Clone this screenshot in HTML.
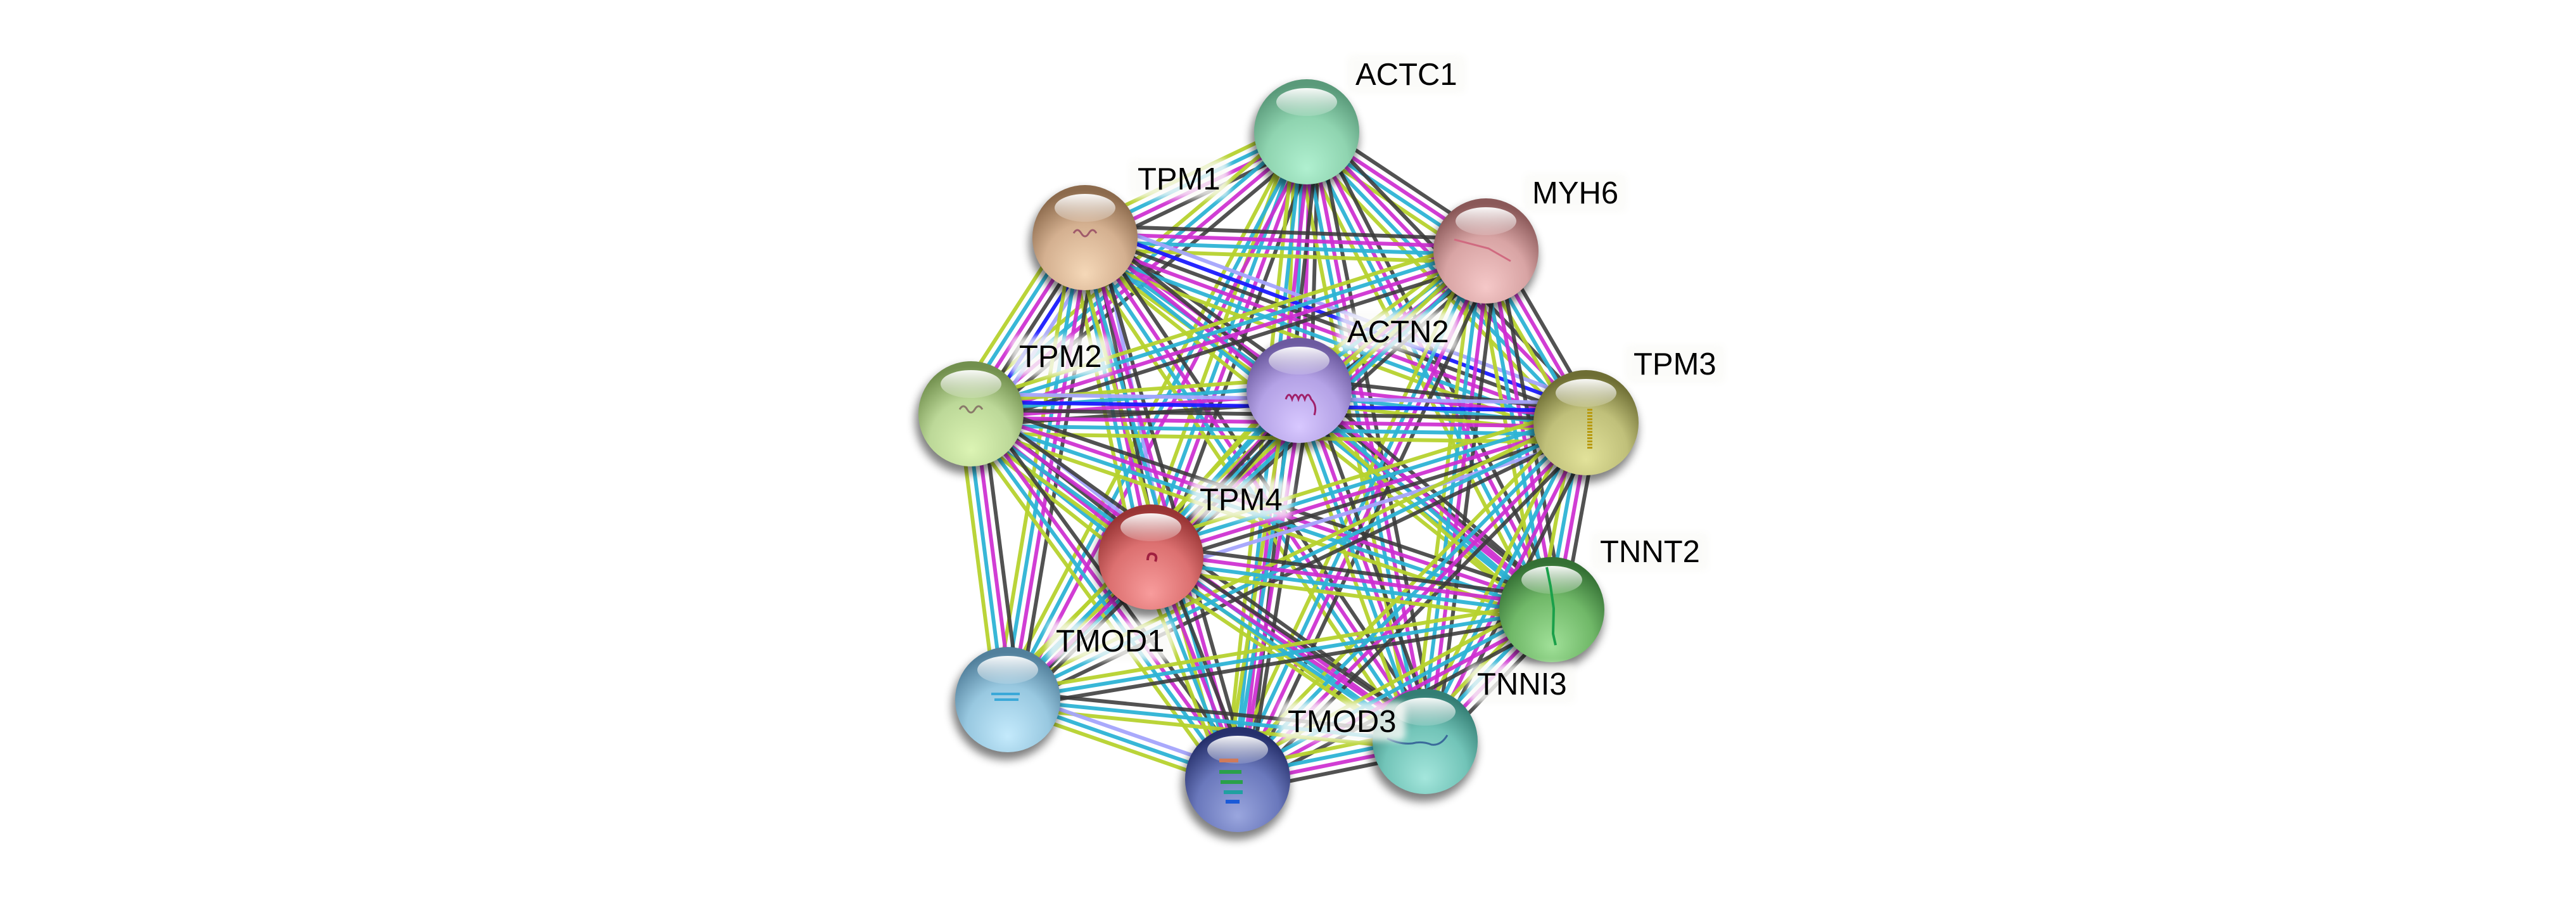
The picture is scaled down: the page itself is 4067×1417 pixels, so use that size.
<!DOCTYPE html>
<html>
<head>
<meta charset="utf-8">
<style>
html,body{margin:0;padding:0;background:#fff;}
body{width:4067px;height:1417px;overflow:hidden;}
svg{display:block;}
text{font-family:"Liberation Sans",Arial,sans-serif;font-size:49px;fill:#000;}
</style>
</head>
<body>
<svg width="4067" height="1417" viewBox="0 0 4067 1417">
<defs>
<filter id="sh" x="-50%" y="-50%" width="200%" height="200%"><feGaussianBlur stdDeviation="7"/></filter>
<filter id="lb" x="-30%" y="-50%" width="160%" height="200%"><feGaussianBlur stdDeviation="5"/></filter>
<linearGradient id="hl" x1="0" y1="0" x2="0" y2="1">
<stop offset="0" stop-color="#fff" stop-opacity=".95"/>
<stop offset="1" stop-color="#fff" stop-opacity=".15"/>
</linearGradient>
<radialGradient id="g0" cx="50%" cy="70%" r="65%" fx="50%" fy="85%"><stop offset="0" stop-color="#b0f0d0"/><stop offset=".6" stop-color="#8fd4b0"/><stop offset="1" stop-color="#5a9a7a"/></radialGradient>
<radialGradient id="g1" cx="50%" cy="70%" r="65%" fx="50%" fy="85%"><stop offset="0" stop-color="#f5d8b8"/><stop offset=".6" stop-color="#d4b090"/><stop offset="1" stop-color="#8c6a4c"/></radialGradient>
<radialGradient id="g2" cx="50%" cy="70%" r="65%" fx="50%" fy="85%"><stop offset="0" stop-color="#f5c8c8"/><stop offset=".6" stop-color="#d8a4a4"/><stop offset="1" stop-color="#8a5858"/></radialGradient>
<radialGradient id="g3" cx="50%" cy="70%" r="65%" fx="50%" fy="85%"><stop offset="0" stop-color="#d8c8ff"/><stop offset=".6" stop-color="#b4a2e6"/><stop offset="1" stop-color="#6c5aa0"/></radialGradient>
<radialGradient id="g4" cx="50%" cy="70%" r="65%" fx="50%" fy="85%"><stop offset="0" stop-color="#dcf4b4"/><stop offset=".6" stop-color="#bcd898"/><stop offset="1" stop-color="#72904e"/></radialGradient>
<radialGradient id="g5" cx="50%" cy="70%" r="65%" fx="50%" fy="85%"><stop offset="0" stop-color="#e2e29a"/><stop offset=".6" stop-color="#c0c07a"/><stop offset="1" stop-color="#6e6e34"/></radialGradient>
<radialGradient id="g6" cx="50%" cy="70%" r="65%" fx="50%" fy="85%"><stop offset="0" stop-color="#f89c9c"/><stop offset=".6" stop-color="#dc7070"/><stop offset="1" stop-color="#983434"/></radialGradient>
<radialGradient id="g7" cx="50%" cy="70%" r="65%" fx="50%" fy="85%"><stop offset="0" stop-color="#a0e098"/><stop offset=".6" stop-color="#70b868"/><stop offset="1" stop-color="#347034"/></radialGradient>
<radialGradient id="g8" cx="50%" cy="70%" r="65%" fx="50%" fy="85%"><stop offset="0" stop-color="#c4eafc"/><stop offset=".6" stop-color="#98c8e0"/><stop offset="1" stop-color="#52809c"/></radialGradient>
<radialGradient id="g9" cx="50%" cy="70%" r="65%" fx="50%" fy="85%"><stop offset="0" stop-color="#a4e6dc"/><stop offset=".6" stop-color="#72c4b8"/><stop offset="1" stop-color="#347e74"/></radialGradient>
<radialGradient id="g10" cx="50%" cy="70%" r="65%" fx="50%" fy="85%"><stop offset="0" stop-color="#9aa6de"/><stop offset=".6" stop-color="#6a78bc"/><stop offset="1" stop-color="#26306c"/></radialGradient>
</defs>

<g id="edges"></g>

<g id="nodes">
<!-- ACTC1 -->
<circle cx="2060" cy="218" r="85" fill="#000" opacity=".5" filter="url(#sh)"/>
<circle cx="2063" cy="208" r="83" fill="url(#g0)"/>
<ellipse cx="2063" cy="161" rx="48" ry="22" fill="url(#hl)"/>
<!-- TPM1 -->
<circle cx="1710" cy="385" r="85" fill="#000" opacity=".5" filter="url(#sh)"/>
<circle cx="1713" cy="375" r="83" fill="url(#g1)"/>
<ellipse cx="1713" cy="328" rx="48" ry="22" fill="url(#hl)"/>
<path d="M1695 368 q6 -10 12 0 q6 10 12 0 q6 -10 12 0" stroke="#a05a6a" stroke-width="3" fill="none"/>
<!-- MYH6 -->
<circle cx="2343" cy="406" r="85" fill="#000" opacity=".5" filter="url(#sh)"/>
<circle cx="2346" cy="396" r="83" fill="url(#g2)"/>
<ellipse cx="2346" cy="349" rx="48" ry="22" fill="url(#hl)"/>
<path d="M2296 378 L2350 392 L2385 412" stroke="#d06a80" stroke-width="3" fill="none"/>
<!-- ACTN2 -->
<circle cx="2048" cy="626" r="85" fill="#000" opacity=".5" filter="url(#sh)"/>
<circle cx="2051" cy="616" r="83" fill="url(#g3)"/>
<ellipse cx="2051" cy="569" rx="48" ry="22" fill="url(#hl)"/>
<path d="M2030 630 q5 -14 10 0 q5 -14 10 0 q5 -14 10 0 q5 -14 10 0 q10 10 5 25" stroke="#a0206a" stroke-width="3" fill="none"/>
<!-- TPM2 -->
<circle cx="1530" cy="663" r="85" fill="#000" opacity=".5" filter="url(#sh)"/>
<circle cx="1533" cy="653" r="83" fill="url(#g4)"/>
<ellipse cx="1533" cy="606" rx="48" ry="22" fill="url(#hl)"/>
<path d="M1515 646 q6 -10 12 0 q6 10 12 0 q6 -10 12 0" stroke="#8a7a6a" stroke-width="3" fill="none"/>
<!-- TPM3 -->
<circle cx="2501" cy="677" r="85" fill="#000" opacity=".5" filter="url(#sh)"/>
<circle cx="2504" cy="667" r="83" fill="url(#g5)"/>
<ellipse cx="2504" cy="620" rx="48" ry="22" fill="url(#hl)"/>
<path d="M2510 645 L2510 710" stroke="#b89a10" stroke-width="8" stroke-dasharray="3 2" fill="none"/>
<!-- TPM4 -->
<circle cx="1814" cy="889" r="85" fill="#000" opacity=".5" filter="url(#sh)"/>
<circle cx="1817" cy="879" r="83" fill="url(#g6)"/>
<ellipse cx="1817" cy="832" rx="48" ry="22" fill="url(#hl)"/>
<path d="M1812 884 q0 -12 8 -10 q8 2 4 12" stroke="#a02040" stroke-width="4" fill="none"/>
<!-- TNNT2 -->
<circle cx="2447" cy="972" r="85" fill="#000" opacity=".5" filter="url(#sh)"/>
<circle cx="2450" cy="962" r="83" fill="url(#g7)"/>
<ellipse cx="2450" cy="915" rx="48" ry="22" fill="url(#hl)"/>
<path d="M2442 895 L2448 925 L2453 960 L2452 1000 L2456 1018" stroke="#1aa04a" stroke-width="4" fill="none"/>
<!-- TMOD1 -->
<circle cx="1588" cy="1114" r="85" fill="#000" opacity=".5" filter="url(#sh)"/>
<circle cx="1591" cy="1104" r="83" fill="url(#g8)"/>
<ellipse cx="1591" cy="1057" rx="48" ry="22" fill="url(#hl)"/>
<path d="M1565 1095 h45 M1570 1104 h38" stroke="#3aa8d8" stroke-width="4" fill="none"/>
<!-- TNNI3 -->
<circle cx="2247" cy="1180" r="85" fill="#000" opacity=".5" filter="url(#sh)"/>
<circle cx="2250" cy="1170" r="83" fill="url(#g9)"/>
<ellipse cx="2250" cy="1123" rx="48" ry="22" fill="url(#hl)"/>
<path d="M2190 1165 q20 10 40 8 q15 -4 30 2 q15 2 25 -15" stroke="#3a6a9a" stroke-width="3" fill="none"/>
<!-- TMOD3 -->
<circle cx="1951" cy="1240" r="85" fill="#000" opacity=".5" filter="url(#sh)"/>
<circle cx="1954" cy="1230" r="83" fill="url(#g10)"/>
<ellipse cx="1954" cy="1183" rx="48" ry="22" fill="url(#hl)"/>
<path d="M1925 1200 h30" stroke="#d07a5a" stroke-width="6"/>
<path d="M1925 1218 h35 M1927 1234 h35" stroke="#2aa04a" stroke-width="6"/>
<path d="M1932 1250 h30" stroke="#20a0a0" stroke-width="6"/>
<path d="M1935 1265 h22" stroke="#1a5ad8" stroke-width="6"/>
</g>

<g id="labels">
<rect x="2126" y="86" width="189" height="62" rx="10" fill="#fbfbf8" opacity=".8" filter="url(#lb)"/>
<text x="2140" y="134">ACTC1</text>
<rect x="1782" y="251" width="159" height="62" rx="10" fill="#fbfbf8" opacity=".8" filter="url(#lb)"/>
<text x="1796" y="299">TPM1</text>
<rect x="2405" y="273" width="164" height="62" rx="10" fill="#fbfbf8" opacity=".8" filter="url(#lb)"/>
<text x="2419" y="321">MYH6</text>
<rect x="2113" y="492" width="189" height="62" rx="10" fill="#fbfbf8" opacity=".8" filter="url(#lb)"/>
<text x="2127" y="540">ACTN2</text>
<rect x="1595" y="531" width="159" height="62" rx="10" fill="#fbfbf8" opacity=".8" filter="url(#lb)"/>
<text x="1609" y="579">TPM2</text>
<rect x="2565" y="543" width="159" height="62" rx="10" fill="#fbfbf8" opacity=".8" filter="url(#lb)"/>
<text x="2579" y="591">TPM3</text>
<rect x="1880" y="757" width="159" height="62" rx="10" fill="#fbfbf8" opacity=".8" filter="url(#lb)"/>
<text x="1894" y="805">TPM4</text>
<rect x="2512" y="839" width="186" height="62" rx="10" fill="#fbfbf8" opacity=".8" filter="url(#lb)"/>
<text x="2526" y="887">TNNT2</text>
<rect x="1653" y="980" width="200" height="62" rx="10" fill="#fbfbf8" opacity=".8" filter="url(#lb)"/>
<text x="1667" y="1028">TMOD1</text>
<rect x="2318" y="1048" width="170" height="62" rx="10" fill="#fbfbf8" opacity=".8" filter="url(#lb)"/>
<text x="2332" y="1096">TNNI3</text>
<rect x="2019" y="1107" width="200" height="62" rx="10" fill="#fbfbf8" opacity=".8" filter="url(#lb)"/>
<text x="2033" y="1155">TMOD3</text>
</g>
</svg>

<script>
(function(){
var N=[[2063,208],[1713,375],[2346,396],[2051,616],[1533,653],[2504,667],[1817,879],[2450,962],[1591,1104],[2250,1170],[1954,1230]];
var E="0-1:KMCY,0-2:KMCY,0-3:KMCY,0-4:KMCY,0-5:KMCY,0-6:KMCY,0-7:KMCY,0-8:MCY,0-9:KMCY,0-10:KMCY,"+
"1-2:KMCY,1-3:KMCY,1-4:LBKMCY,1-5:LBKMCY,1-6:LKMCY,1-7:KMCY,1-8:KMCY,1-9:KMCY,1-10:KMCY,"+
"2-3:KMCY,2-4:KMCY,2-5:KMCY,2-6:KMCY,2-7:KMCY,2-8:CY,2-9:KMCY,2-10:KMCY,"+
"3-4:KMCY,3-5:KMCY,3-6:KMCY,3-7:KMCY,3-8:KCY,3-9:KMCY,3-10:KMCY,"+
"4-5:LBKMCY,4-6:LKMCY,4-7:KMCY,4-8:KMCY,4-9:KMCY,4-10:KMCY,"+
"5-6:LKMCY,5-7:KMCY,5-8:KCY,5-9:KMCY,5-10:KMCY,"+
"6-7:KMCY,6-8:KMCY,6-9:KMCY,6-10:KMCY,"+
"7-8:KCY,7-9:KMCY,7-10:KMCY,8-9:KCY,8-10:LCY,9-10:KMCY";
var col={L:'#a4a4fc',B:'#1a1aff',K:'#3a3a3a',M:'#cd2dd0',C:'#2db3d5',Y:'#b6d22e'};
var op={L:.95,B:.95,K:.88,M:.92,C:.95,Y:.95};
var ord="LBKMCY";
var s='';
E.split(',').forEach(function(e){
  var p=e.split(':'),ab=p[0].split('-'),c=p[1];
  var a=N[+ab[0]],b=N[+ab[1]];
  var dx=b[0]-a[0],dy=b[1]-a[1],L=Math.sqrt(dx*dx+dy*dy);
  var nx=-dy/L,ny=dx/L;
  var ch=ord.split('').filter(function(k){return c.indexOf(k)>=0;});
  var n=ch.length;
  ch.forEach(function(k,i){
    var o=(i-(n-1)/2)*12.5;
    s+='<line x1="'+(a[0]+nx*o).toFixed(1)+'" y1="'+(a[1]+ny*o).toFixed(1)+'" x2="'+(b[0]+nx*o).toFixed(1)+'" y2="'+(b[1]+ny*o).toFixed(1)+'" stroke="'+col[k]+'" stroke-width="6" stroke-opacity="'+op[k]+'"/>';
  });
});
document.getElementById('edges').innerHTML=s;
})();
</script>
</body>
</html>
